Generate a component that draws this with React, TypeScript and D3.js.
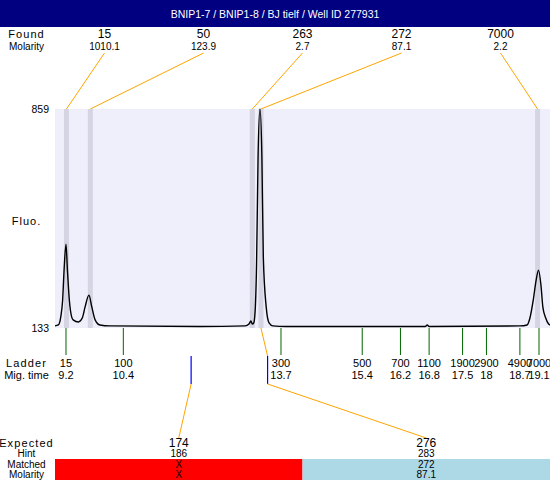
import React from 'react';
import { scaleLinear, line, curveMonotoneX } from 'd3';

const title = 'BNIP1-7 / BNIP1-8 / BJ tielf / Well ID 277931';

// peaks found in the sample
const foundSizes = [15, 50, 263, 272, 7000];
const foundMolarity = ['1010.1', '123.9', '2.7', '87.1', '2.2'];
const foundTimes = [9.21, 9.71, 13.1, 13.28, 19.07];

// ladder
const ladderSizes = [15, 100, 300, 500, 700, 1100, 1900, 2900, 4900, 7000];
const ladderTimes = [9.2, 10.4, 13.7, 15.4, 16.2, 16.8, 17.5, 18, 18.7, 19.1];

// expected fragments
const expectedSizes = [174, 276];
const hintSizes = [186, 283];
const matchedSizes = ['X', '272'];
const matchedMolarity = ['X', '87.1'];
const matchedFound = [-1, 3];

// electropherogram trace (migration time in s, fluorescence)
const traceTimes = [8.97, 9.04, 9.09, 9.13, 9.16, 9.2, 9.23, 9.27, 9.32, 9.35, 9.46, 9.54, 9.6, 9.68, 9.74, 9.81, 9.91, 10.12, 12.0,
  12.95, 13.03, 13.07, 13.1, 13.13, 13.16, 13.19, 13.22, 13.26, 13.3, 13.33, 13.39, 13.45, 13.53, 13.8, 16.72, 16.76, 16.8,
  18.7, 18.85, 18.91, 18.98, 19.04, 19.09, 19.14, 19.18, 19.24, 19.3, 19.33];
const traceFluo = [140, 143, 169, 226, 325, 411, 325, 226, 169, 160, 153, 166, 203, 242, 203, 160, 143, 140, 138,
  140, 146, 156, 146, 150, 193, 358, 700, 859, 700, 368, 203, 150, 140, 138, 138, 143, 138,
  140, 143, 166, 226, 292, 325, 276, 203, 166, 146, 143];

const fluoTicks = [133, 859];

const W = 550;
const H = 480;
const plot = { left: 55, right: 550, top: 109, bottom: 328 };
const font = '"Liberation Sans", Arial, sans-serif';
const orange = '#FFA500';

const xScale = scaleLinear().domain([8.97, 19.33]).range([plot.left, plot.right]);
const yScale = scaleLinear().domain([133, 859]).range([plot.bottom, plot.top]);
// size (bp) -> migration time, piecewise along the ladder
const sizeToTime = scaleLinear().domain(ladderSizes).range(ladderTimes);

const foundCol = scaleLinear().domain([0, foundSizes.length]).range([plot.left, plot.right]);
const expCol = scaleLinear().domain([0, expectedSizes.length]).range([plot.left, plot.right]);

const Label = ({ y, size, children, spacing = 0 }) => (
  <text x={26.5} y={y} fontSize={size} textAnchor="middle" letterSpacing={spacing}>{children}</text>
);

export default function App() {
  const bandW = 5;
  const trace = line()
    .x((d, i) => xScale(traceTimes[i]))
    .y((d) => yScale(d))
    .curve(curveMonotoneX)(traceFluo);

  return (
    <svg width={W} height={H} style={{ position: 'absolute', left: 0, top: 0, fontFamily: font }}>
      <rect x={0} y={0} width={W} height={H} fill="#fff" />
      <rect x={0} y={0} width={W} height={27} fill="#000080" />
      <text x={W / 2} y={18} fill="#fff" fontSize={10.5} textAnchor="middle">{title}</text>

      {/* found row */}
      <Label y={38} size={11} spacing={1.1}>Found</Label>
      <Label y={50} size={10}>Molarity</Label>
      {foundSizes.map((s, i) => {
        const cx = foundCol(i + 0.5);
        return (
          <g key={'f' + i}>
            <text x={cx} y={38} fontSize={12} textAnchor="middle">{s}</text>
            <text x={cx} y={50} fontSize={10} textAnchor="middle">{foundMolarity[i]}</text>
            <line x1={cx} y1={53} x2={xScale(foundTimes[i])} y2={plot.top} stroke={orange} strokeWidth={1} />
          </g>
        );
      })}

      {/* plot area */}
      <rect x={plot.left} y={plot.top} width={plot.right - plot.left} height={plot.bottom - plot.top} fill="#EFEFFC" />
      {foundTimes.map((t, i) => (
        <rect key={'b' + i} x={xScale(t) - bandW / 2} y={plot.top} width={bandW} height={plot.bottom - plot.top} fill="#D4D4E2" />
      ))}
      <path d={trace} fill="none" stroke="#000" strokeWidth={1.4} />

      {fluoTicks.map((v) => (
        <text key={v} x={49} y={yScale(v) + 4} fontSize={10.5} textAnchor="end">{v}</text>
      ))}
      <text x={26.5} y={225} fontSize={11} textAnchor="middle" letterSpacing={1}>Fluo.</text>

      {/* ladder */}
      <Label y={367} size={11} spacing={1.1}>Ladder</Label>
      <Label y={379} size={11}>Mig. time</Label>
      {ladderSizes.map((s, i) => {
        const x = xScale(ladderTimes[i]);
        return (
          <g key={'l' + i}>
            <line x1={x} y1={plot.bottom} x2={x} y2={355} stroke="#006400" strokeWidth={1} />
            <text x={x} y={367} fontSize={11} textAnchor="middle">{s}</text>
            <text x={x} y={379} fontSize={11} textAnchor="middle">{ladderTimes[i]}</text>
          </g>
        );
      })}

      {/* expected */}
      <Label y={447} size={11} spacing={1.1}>Expected</Label>
      <Label y={457} size={10}>Hint</Label>
      <Label y={468} size={10}>Matched</Label>
      <Label y={478} size={10}>Molarity</Label>
      {expectedSizes.map((s, i) => {
        const cx = expCol(i + 0.5);
        const hx = xScale(sizeToTime(hintSizes[i]));
        const hit = matchedFound[i] >= 0;
        return (
          <g key={'e' + i}>
            <rect x={expCol(i)} y={459} width={expCol(i + 1) - expCol(i)} height={H - 459} fill={hit ? '#ADD8E6' : '#FF0000'} />
            <line x1={hx} y1={356} x2={hx} y2={384} stroke="#0000FF" strokeWidth={1.2} />
            <line x1={hx} y1={384} x2={cx} y2={438} stroke={orange} strokeWidth={1} />
            {hit && (
              <line x1={xScale(foundTimes[matchedFound[i]])} y1={plot.bottom} x2={hx} y2={356} stroke={orange} strokeWidth={1} />
            )}
            <text x={cx} y={447} fontSize={12} textAnchor="middle">{s}</text>
            <text x={cx} y={457} fontSize={10} textAnchor="middle">{hintSizes[i]}</text>
            <text x={cx} y={468} fontSize={10} textAnchor="middle">{matchedSizes[i]}</text>
            <text x={cx} y={478} fontSize={10} textAnchor="middle">{matchedMolarity[i]}</text>
          </g>
        );
      })}
    </svg>
  );
}
